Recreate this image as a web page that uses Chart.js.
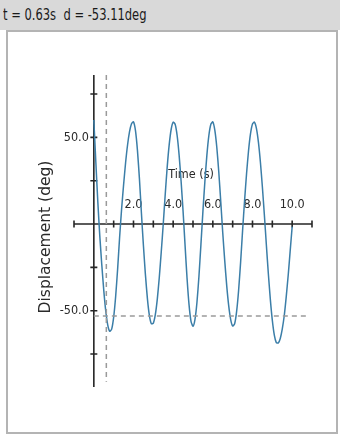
<!DOCTYPE html>
<html>
<head>
<meta charset="utf-8">
<script src="https://cdn.jsdelivr.net/npm/chart.js@4"></script>
<style>
  html, body { margin: 0; padding: 0; background: #fff; }
  body { width: 340px; height: 436px; position: relative; overflow: hidden; }
  #status {
    position: absolute; left: 0; top: 0; width: 340px; height: 30px;
    background: #d9d9d9; color: #1a1a1a; overflow: hidden;
  }
  #status span {
    display: inline-block; white-space: pre;
    font: 16px "DejaVu Sans Condensed", sans-serif;
    line-height: 30px; margin-left: 3px;
    transform: scaleX(0.8); transform-origin: left center;
  }
  #panel {
    position: absolute; left: 6px; top: 30px; width: 332px; height: 404px;
    border: 2px solid #b4b4b4; box-sizing: border-box; background: #fff;
  }
  #plot { position: absolute; left: 0; top: 0; }
</style>
</head>
<body>
<div id="status"><span></span></div>
<div id="panel"><canvas id="plot" width="328" height="400"></canvas></div>
<script>
// ---- data: time (s) and displacement (deg) ----
const times = [
  0.0, 0.1, 0.2, 0.3, 0.4, 0.5, 0.6, 0.7, 0.8, 0.9,
  1.0, 1.1, 1.2, 1.3, 1.4, 1.5, 1.6, 1.7, 1.8, 1.9,
  2.0, 2.1, 2.2, 2.3, 2.4, 2.5, 2.6, 2.7, 2.8, 2.9,
  3.0, 3.1, 3.2, 3.3, 3.4, 3.5, 3.6, 3.7, 3.8, 3.9,
  4.0, 4.1, 4.2, 4.3, 4.4, 4.5, 4.6, 4.7, 4.8, 4.9,
  5.0, 5.1, 5.2, 5.3, 5.4, 5.5, 5.6, 5.7, 5.8, 5.9,
  6.0, 6.1, 6.2, 6.3, 6.4, 6.5, 6.6, 6.7, 6.8, 6.9,
  7.0, 7.1, 7.2, 7.3, 7.4, 7.5, 7.6, 7.7, 7.8, 7.9,
  8.0, 8.1, 8.2, 8.3, 8.4, 8.5, 8.6, 8.7, 8.8, 8.9,
  9.0, 9.1, 9.2, 9.3, 9.4, 9.5, 9.6, 9.7, 9.8, 9.9,
  10.0
];
const displacement = [
  60.0, 36.0, 13.0, -6.8, -23.3, -38.1, -50.0, -58.1, -61.8, -60.6,
  -53.7, -41.8, -25.9, -7.6, 8.7, 22.6, 35.2, 45.6, 53.3, 57.9,
  59.0, 53.9, 42.4, 25.9, 6.2, -12.4, -29.0, -42.9, -52.7, -57.5,
  -57.2, -52.3, -43.3, -30.8, -16.0, 0.0, 17.2, 33.0, 45.8, 54.7,
  58.8, 57.6, 51.1, 39.8, 24.7, 7.3, -12.3, -31.3, -46.5, -56.1,
  -59.0, -55.0, -45.1, -30.1, -11.7, 7.3, 24.7, 39.8, 51.1, 57.6,
  59.0, 54.2, 44.3, 30.0, 12.9, -5.0, -21.1, -35.5, -47.1, -55.1,
  -58.8, -57.5, -50.4, -38.2, -22.1, -3.8, 13.4, 29.0, 42.3, 52.2,
  57.8, 58.8, 55.1, 47.1, 35.5, 21.1, 5.0, -12.2, -28.8, -43.6,
  -55.6, -64.1, -68.4, -68.6, -66.0, -60.6, -52.9, -42.0, -29.5, -15.5,
  -1.5
];

// cursor readout
const cursorT = 0.63;
const cursorD = -53.11;

// ---- axes ----
const xTicks  = [-1, 0, 1, 2, 3, 4, 5, 6, 7, 8, 9, 10, 11];
const xLabels = [2, 4, 6, 8, 10];
const yTicks  = [-75, -50, -25, 0, 25, 50, 75];
const yLabels = [50, -50];

const X_MIN = -1, X_MAX = 11;
const Y_MIN = -94, Y_MAX = 86;

// ---- colours ----
const CURVE  = '#3b7ea8';
const AXIS   = '#262626';
const DASH   = '#9a9a9a';
const LABEL  = '#2a2a2a';
const TICK_FONT = '12.5px "DejaVu Sans Condensed", sans-serif';

document.querySelector('#status span').textContent =
  `t = ${cursorT}s  d = ${cursorD}deg`;

// axes crossing at the origin, with ticks through the line
const crossAxes = {
  id: 'crossAxes',
  beforeDatasetsDraw(chart) {
    const { ctx, chartArea: a, scales: { x, y } } = chart;
    const x0 = x.getPixelForValue(0);
    const y0 = y.getPixelForValue(0);
    ctx.save();
    ctx.strokeStyle = AXIS;
    ctx.lineWidth = 1.6;
    ctx.beginPath();
    ctx.moveTo(a.left, y0);  ctx.lineTo(a.right, y0);
    ctx.moveTo(x0, a.top);   ctx.lineTo(x0, a.bottom);
    xTicks.forEach(v => {
      const px = x.getPixelForValue(v);
      ctx.moveTo(px, y0 - 3.5); ctx.lineTo(px, y0 + 3.5);
    });
    yTicks.forEach(v => {
      const py = y.getPixelForValue(v);
      ctx.moveTo(x0 - 3.5, py); ctx.lineTo(x0 + 3.5, py);
    });
    ctx.stroke();

    ctx.fillStyle = LABEL;
    ctx.font = TICK_FONT;
    ctx.textBaseline = 'middle';
    ctx.textAlign = 'center';
    xLabels.forEach(v => ctx.fillText(v.toFixed(1), x.getPixelForValue(v), y0 - 19));
    ctx.textAlign = 'right';
    yLabels.forEach(v => ctx.fillText(v.toFixed(1), x0 - 5, y.getPixelForValue(v)));

    // axis titles
    ctx.textAlign = 'left';
    ctx.fillText('Time (s)', x.getPixelForValue(3.75), y0 - 49);
    ctx.save();
    ctx.translate(a.left - 28, (a.top + a.bottom) / 2 + 6);
    ctx.rotate(-Math.PI / 2);
    ctx.textAlign = 'center';
    ctx.font = '15.5px "DejaVu Sans", sans-serif';
    ctx.fillText('Displacement (deg)', 0, 0);
    ctx.restore();
    ctx.restore();
  }
};

new Chart(document.getElementById('plot'), {
  type: 'scatter',
  data: {
    datasets: [
      {
        label: 'cursor t',
        data: [{ x: cursorT, y: Y_MAX }, { x: cursorT, y: -91 }],
        showLine: true,
        borderColor: DASH,
        borderWidth: 1.5,
        borderDash: [5, 4],
        pointRadius: 0,
      },
      {
        label: 'cursor d',
        data: [{ x: 0, y: cursorD }, { x: 10.8, y: cursorD }],
        showLine: true,
        borderColor: DASH,
        borderWidth: 1.5,
        borderDash: [5, 4],
        pointRadius: 0,
      },
      {
        label: 'Displacement',
        data: times.map((t, i) => ({ x: t, y: displacement[i] })),
        showLine: true,
        borderColor: CURVE,
        borderWidth: 1.5,
        tension: 0.2,
        pointRadius: 0,
      }
    ]
  },
  options: {
    responsive: false,
    animation: false,
    layout: { padding: { left: 66, right: 24, top: 43, bottom: 45 } },
    plugins: {
      legend: { display: false },
      tooltip: { enabled: false }
    },
    scales: {
      x: { type: 'linear', min: X_MIN, max: X_MAX, display: false },
      y: { type: 'linear', min: Y_MIN, max: Y_MAX, display: false }
    }
  },
  plugins: [crossAxes]
});
</script>
</body>
</html>
